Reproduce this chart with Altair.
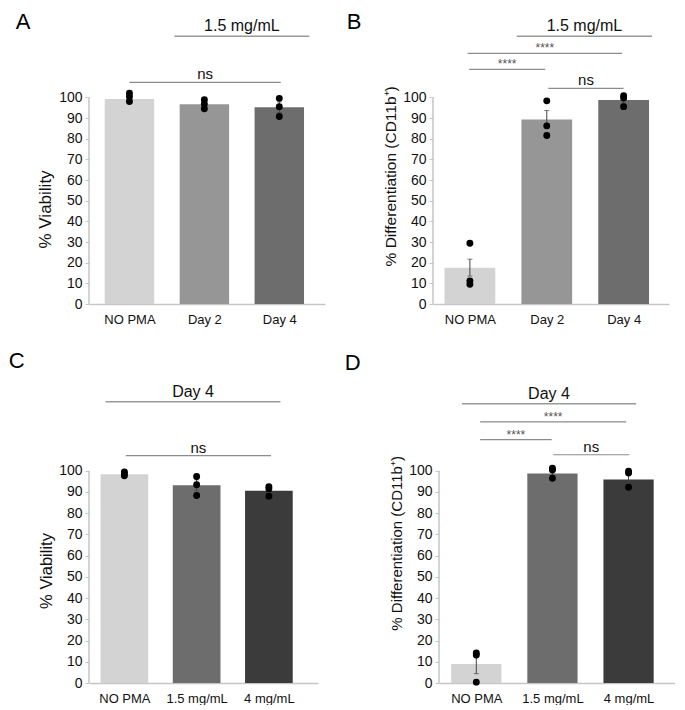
import altair as alt
import pandas as pd

# ---------------- data ----------------
cats_day = ["NO PMA", "Day 2", "Day 4"]
cats_dose = ["NO PMA", "1.5 mg/mL", "4 mg/mL"]

colors_day = ["#d3d3d3", "#969696", "#6d6d6d"]
colors_dose = ["#d3d3d3", "#6d6d6d", "#3b3b3b"]

mean_A = [99.2, 96.7, 95.2]
sem_A = [1.2, 1.3, 2.6]
pts_A = [[102.0, 100.3, 98.0], [98.8, 96.8, 94.5], [99.5, 95.5, 90.7]]

mean_B = [17.6, 89.3, 98.7]
sem_B = [4.1, 4.3, 1.5]
pts_B = [[29.4, 11.2, 9.6], [98.3, 86.2, 81.5], [100.8, 99.7, 95.5]]

mean_C = [98.3, 93.1, 90.6]
sem_C = [0.6, 2.6, 1.4]
pts_C = [[99.4, 98.6, 97.6], [97.3, 93.4, 88.3], [92.5, 91.5, 88.0]]

mean_D = [8.9, 98.7, 95.8]
sem_D = [4.5, 1.5, 3.0]
pts_D = [[14.1, 13.2, 0.4], [101.2, 100.3, 96.4], [99.8, 98.9, 92.2]]

y_ticks = list(range(0, 101, 10))

# annotation brackets: (from index, to index, level, label, kind)
ann_A = [(0.60, 2.40, 129.5, "1.5 mg/mL", "group"),
         (0.00, 2.02, 107.2, "ns", "ns")]
ann_B = [(0.61, 2.37, 129.5, "1.5 mg/mL", "group"),
         (-0.03, 1.98, 121.3, "****", "star"),
         (-0.01, 0.98, 113.5, "****", "star"),
         (1.02, 2.00, 104.3, "ns", "ns")]
ann_C = [(-0.26, 2.16, 132.5, "Day 4", "group"),
         (0.02, 2.03, 107.1, "ns", "ns")]
ann_D = [(-0.19, 2.10, 131.5, "Day 4", "group"),
         (0.05, 1.97, 123.0, "****", "star"),
         (0.05, 0.99, 114.6, "****", "star"),
         (1.01, 2.01, 107.5, "ns", "ns")]

Y_VIA = "% Viability"
Y_DIFF = "% Differentiation (CD11b\u207a)"

AXIS_GRAY = "#c6c6c6"


def panel(letter, cats, colors, means, sems, pts, ann, ytitle, title_center,
          title_size, width, height, ymax, xdom, letter_dx, letter_offset):
    bars = pd.DataFrame({"i": [0, 1, 2], "cat": cats, "mean": means, "sem": sems})
    rows = []
    for i, vals in enumerate(pts):
        for v in vals:
            rows.append({"i": i, "v": v})
    pts_df = pd.DataFrame(rows)
    ann_df = pd.DataFrame(ann, columns=["x1", "x2", "lvl", "label", "kind"])
    axis_df = pd.DataFrame({"lo": [0], "hi": [100]})

    xsc = alt.Scale(domain=xdom, nice=False, zero=False)
    ysc = alt.Scale(domain=[0, ymax], nice=False)
    arr = "[" + ",".join("'" + c + "'" for c in cats) + "]"
    xax = alt.Axis(values=[0, 1, 2], labelExpr=arr + "[datum.value]", title=None,
                   grid=False, ticks=False, domainColor=AXIS_GRAY, domainWidth=1.5,
                   labelFontSize=13, labelPadding=9, labelColor="#111",
                   labelOverlap=False)
    yax = alt.Axis(values=y_ticks, title=ytitle, grid=False,
                   domain=False, tickColor=AXIS_GRAY, tickSize=4, labelFontSize=14,
                   labelColor="#111", labelPadding=3, labelOverlap=False,
                   labelSeparation=0,
                   titleFontSize=title_size, titleFontWeight="normal", titleColor="#111",
                   titlePadding=4, titleY=height * (1 - title_center / ymax))

    def X(f):
        return alt.X(f, scale=xsc, axis=xax)

    def Y(f):
        return alt.Y(f, scale=ysc, axis=yax)

    base = alt.Chart(bars)
    bar = base.transform_calculate(
        x0="datum.i - 0.33", x1="datum.i + 0.33", z="0"
    ).mark_bar().encode(
        x=X("x0:Q"), x2="x1:Q", y=Y("mean:Q"), y2="z:Q",
        color=alt.Color("cat:N", scale=alt.Scale(domain=cats, range=colors), legend=None),
    )
    err = base.transform_calculate(
        lo="datum.mean - datum.sem", hi="datum.mean + datum.sem"
    )
    err_rule = err.mark_rule(color="#444", strokeWidth=1).encode(
        x=X("i:Q"), y=Y("lo:Q"), y2="hi:Q")
    cap_hi = err.mark_tick(color="#444", orient="horizontal", size=5, thickness=1).encode(
        x=X("i:Q"), y=Y("hi:Q"))
    cap_lo = err.mark_tick(color="#444", orient="horizontal", size=5, thickness=1).encode(
        x=X("i:Q"), y=Y("lo:Q"))
    dots = alt.Chart(pts_df).mark_circle(color="black", opacity=1, size=48).encode(
        x=X("i:Q"), y=Y("v:Q"))
    yline = alt.Chart(axis_df).mark_rule(color=AXIS_GRAY, strokeWidth=1.5).encode(
        x=alt.value(0), y=Y("lo:Q"), y2="hi:Q")

    layers = [bar, err_rule, cap_hi, cap_lo, dots, yline]
    styles = {
        "group": dict(line="#999999", lw=1.5, size=16, tcol="#111", dy=-5),
        "ns": dict(line="#8c8c8c", lw=1.2, size=15, tcol="#111", dy=-3),
        "star": dict(line="#8c8c8c", lw=1.2, size=12, tcol="#555", dy=-1),
    }
    for kind, st in styles.items():
        sub = ann_df[ann_df["kind"] == kind]
        if len(sub) == 0:
            continue
        c = alt.Chart(sub)
        layers.append(c.mark_rule(color=st["line"], strokeWidth=st["lw"]).encode(
            x=X("x1:Q"), x2="x2:Q", y=Y("lvl:Q")))
        layers.append(c.transform_calculate(xm="(datum.x1 + datum.x2) / 2").mark_text(
            fontSize=st["size"], color=st["tcol"], dy=st["dy"], baseline="alphabetic",
            align="center").encode(x=X("xm:Q"), y=Y("lvl:Q"), text="label:N"))

    return alt.layer(*layers).properties(
        width=width, height=height,
        title=alt.TitleParams(letter, anchor="start", fontSize=22, fontWeight="normal",
                              color="#000", dx=letter_dx, offset=letter_offset),
    )


A = panel("A", cats_day, colors_day, mean_A, sem_A, pts_A, ann_A, Y_VIA, 46, 17,
          236, 279, 135, [-0.54, 2.61], -21, -16)
B = panel("B", cats_day, colors_day, mean_B, sem_B, pts_B, ann_B, Y_DIFF, 62, 15.5,
          236, 279, 135, [-0.48, 2.59], -37, -16)
C = panel("C", cats_dose, colors_dose, mean_C, sem_C, pts_C, ann_C, Y_VIA, 53, 16.5,
          229, 293, 138, [-0.49, 2.68], -30, 11)
D = panel("D", cats_dose, colors_dose, mean_D, sem_D, pts_D, ann_D, Y_DIFF, 66, 15,
          236, 293, 138, [-0.49, 2.61], -45, 11)

chart = alt.vconcat(
    alt.hconcat(A, B, spacing=21).resolve_scale(color="independent"),
    alt.hconcat(C, D, spacing=26).resolve_scale(color="independent"),
    spacing=23,
).resolve_scale(color="independent").properties(
    padding={"left": 0, "top": 3, "right": 0, "bottom": 0},
    autosize=alt.AutoSizeParams(type="pad"),
).configure(
    font="Liberation Sans",
    view=alt.ViewConfig(strokeWidth=0, stroke="transparent"),
    axis=alt.AxisConfig(labelOverlap=False),
)

chart.save("out.html", embed_options={"renderer": "svg", "actions": False})
